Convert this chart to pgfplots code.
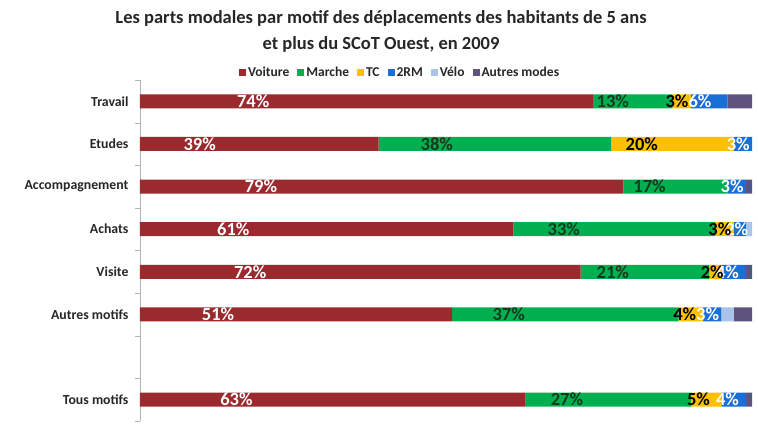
\documentclass[border=0pt]{standalone}
\usepackage{pgfplots}
\pgfplotsset{compat=1.18}
\usepackage{fontspec}
\setmainfont{Carlito}
\definecolor{cVoit}{HTML}{9A2A2E}
\definecolor{cMarche}{HTML}{00B050}
\definecolor{cTC}{HTML}{FFC000}
\definecolor{c2RM}{HTML}{1A6FD6}
\definecolor{cVelo}{HTML}{A9C4E8}
\definecolor{cAutres}{HTML}{5E527F}
\definecolor{cMarcheTxt}{HTML}{143A1E}
\pgfplotsset{lbl/.style={nodes near coords={\pgfplotspointmeta\%},
  every node near coord/.append style={anchor=center, inner sep=0pt, xshift={-1.53*\pgfplotspointmeta pt}, font=\bfseries\fontsize{18.5}{19}\selectfont, text=#1}}}
\begin{document}
\begin{tikzpicture}[x=1pt,y=1pt]
\path[use as bounding box] (0,0) rectangle (758,432);
\node[font=\bfseries\fontsize{18.5}{26}\selectfont, align=center, text=black!85] at (381,401) {Les parts modales par motif des déplacements des habitants de 5 ans\\et plus du SCoT Ouest, en 2009};
\begin{axis}[
  at={(140pt,11pt)}, anchor=south west,
  scale only axis, width=612pt, height=341pt,
  xbar stacked, bar width=14pt,
  xmin=0, xmax=100,
  ymin=-0.5, ymax=7.5, y dir=reverse,
  axis x line=none,
  axis y line*=left,
  y axis line style={draw=black!30},
  ytick={0,1,2,3,4,5,7},
  yticklabels={Travail,Etudes,Accompagnement,Achats,Visite,Autres motifs,Tous motifs},
  major tick length=0pt,
  minor ytick={-0.5,0.5,...,7.5},
  minor tick length=5pt,
  tick align=outside, ytick pos=left,
  minor tick style={draw=black!30},
  yticklabel style={font=\bfseries\fontsize{13.8}{14}\selectfont, text=black!85, xshift=-8pt},
  point meta=explicit symbolic,
  legend style={at={(0.425,1)}, anchor=south, yshift=-2pt, draw=none, fill=none, legend columns=-1,
    font=\bfseries\fontsize{13.5}{14}\selectfont, text=black!85,
    /tikz/every even column/.append style={column sep=6pt}},
  legend image code/.code={\fill[#1] (0pt,-3.5pt) rectangle (7pt,3.5pt);},
]
\addplot[fill=cVoit, draw=none, lbl=white] coordinates {
 (74,0)[74] (39,1)[39] (79,2)[79] (61,3)[61] (72,4)[72] (51,5)[51] (63,7)[63]};
\addplot[fill=cMarche, draw=none, lbl=cMarcheTxt] coordinates {
 (13,0)[13] (38,1)[38] (17,2)[17] (33,3)[33] (21,4)[21] (37,5)[37] (27,7)[27]};
\addplot[fill=cTC, draw=none, lbl=black] coordinates {
 (3,0)[3] (20,1)[20] (0,2)[0] (3,3)[3] (2,4)[2] (4,5)[4] (5,7)[5]};
\addplot[fill=c2RM, draw=none, lbl=white] coordinates {
 (6,0)[6] (3,1)[3] (3,2)[3] (2,3)[2] (4,4)[4] (3,5)[3] (4,7)[4]};
\addplot[fill=cVelo, draw=none] coordinates {
 (0,0) (0,1) (0,2) (1,3) (0,4) (2,5) (0,7)};
\addplot[fill=cAutres, draw=none] coordinates {
 (4,0) (0,1) (1,2) (0,3) (1,4) (3,5) (1,7)};
\legend{Voiture,Marche,TC,2RM,Vélo,Autres modes}
\end{axis}
\end{tikzpicture}
\end{document}
